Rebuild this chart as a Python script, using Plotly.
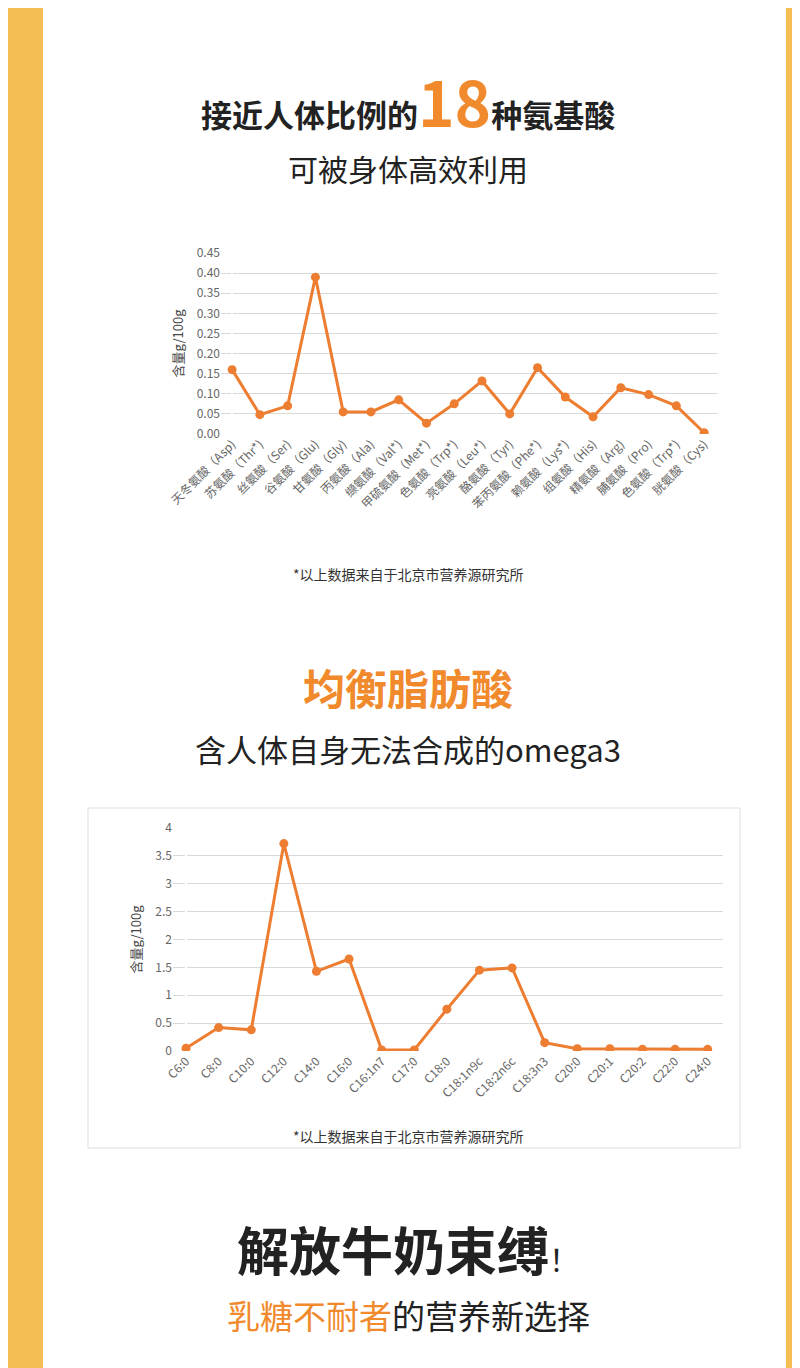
import plotly.graph_objects as go

amino_labels = ["天冬氨酸（Asp)", "苏氨酸（Thr*)", "丝氨酸（Ser)", "谷氨酸（Glu)", "甘氨酸（Gly)",
                "丙氨酸（Ala)", "缬氨酸（Val*)", "甲硫氨酸（Met*)", "色氨酸（Trp*)", "亮氨酸（Leu*)",
                "酪氨酸（Tyr)", "苯丙氨酸（Phe*)", "赖氨酸（Lys*)", "组氨酸（His)", "精氨酸（Arg)",
                "脯氨酸（Pro)", "色氨酸（Trp*)", "胱氨酸（Cys)"]
amino_values = [0.16, 0.048, 0.07, 0.39, 0.055, 0.055, 0.085, 0.027, 0.075, 0.132,
                0.05, 0.165, 0.092, 0.043, 0.115, 0.098, 0.07, 0.003]

fat_labels = ["C6:0", "C8:0", "C10:0", "C12:0", "C14:0", "C16:0", "C16:1n7", "C17:0", "C18:0",
              "C18:1n9c", "C18:2n6c", "C18:3n3", "C20:0", "C20:1", "C20:2", "C22:0", "C24:0"]
fat_values = [0.05, 0.42, 0.38, 3.72, 1.43, 1.65, 0.02, 0.02, 0.75, 1.45, 1.49, 0.15,
              0.04, 0.04, 0.03, 0.03, 0.03]

ORANGE = "#ED7D31"
H = 1368

def py(px):
    return 1 - px / H

fig = go.Figure()
fig.add_trace(go.Scatter(x=list(range(len(amino_labels))), y=amino_values, mode="lines+markers",
                         line=dict(color=ORANGE, width=3), marker=dict(size=9, color=ORANGE),
                         xaxis="x", yaxis="y"))
fig.add_trace(go.Scatter(x=list(range(len(fat_labels))), y=fat_values, mode="lines+markers",
                         line=dict(color=ORANGE, width=3), marker=dict(size=9, color=ORANGE),
                         xaxis="x2", yaxis="y2"))

tickfont = dict(family="Noto Sans CJK SC", size=12, color="#666")
ytitle = dict(text="含量g/100g", font=dict(family="Noto Sans CJK SC", size=13, color="#444"), standoff=10)
fig.update_layout(
    width=800, height=H, margin=dict(l=0, r=0, t=0, b=0),
    paper_bgcolor="white", plot_bgcolor="white", showlegend=False,
    xaxis=dict(domain=[213 / 800, 710 / 800], range=[-0.4, 17.5], anchor="y", automargin=False,
               tickvals=list(range(len(amino_labels))), ticktext=amino_labels,
               tickangle=-45, tickfont=tickfont, showgrid=False, showline=False, ticks=""),
    yaxis=dict(domain=[py(426), py(245)], range=[0, 0.45], dtick=0.05, tickformat=".2f",
               anchor="x", tickfont=tickfont, gridcolor="#d9d9d9", zeroline=False,
               automargin=False, title=ytitle),
    xaxis2=dict(domain=[165 / 800, 715 / 800], range=[-0.4, 16.47], anchor="y2", automargin=False,
                tickvals=list(range(len(fat_labels))), ticktext=fat_labels,
                tickangle=-45, tickfont=tickfont, showgrid=False, showline=False, ticks=""),
    yaxis2=dict(domain=[py(1043), py(820)], range=[0, 4], dtick=0.5, anchor="x2",
                tickfont=tickfont, gridcolor="#d9d9d9", zeroline=False,
                automargin=False, title=ytitle),
)

fig.add_shape(type="rect", xref="paper", yref="paper", x0=0, x1=35 / 800, y0=0, y1=1,
              fillcolor="#F5BE55", line_width=0, layer="below")
fig.add_shape(type="rect", xref="paper", yref="paper", x0=778 / 800, x1=1, y0=0, y1=1,
              fillcolor="#F5BE55", line_width=0, layer="below")
fig.add_shape(type="rect", xref="paper", yref="paper", x0=80 / 800, x1=732 / 800,
              y0=py(1140), y1=py(800), line=dict(color="#dddddd", width=1), layer="below")

F = "Noto Sans CJK SC"
def note(text, y, size, color="#222", x=0.5):
    fig.add_annotation(text=text, x=x, y=py(y), xref="paper", yref="paper", showarrow=False,
                       font=dict(family=F, size=size, color=color), xanchor="center", yanchor="middle")

note("<b>接近人体比例的<span style='font-size:62px;color:#F08A2C'>18</span>种氨基酸</b>", 92, 31)
note("可被身体高效利用", 160, 30)
note("*以上数据来自于北京市营养源研究所", 566, 14, "#333")
note("<b>均衡脂肪酸</b>", 678, 42, "#F08A2C")
note("含人体自身无法合成的omega3", 740, 31, "#222")
note("*以上数据来自于北京市营养源研究所", 1128, 14, "#333")
note("<b>解放牛奶束缚</b><span style='font-size:30px'>！</span>", 1240, 52, "#222")
note("<span style='color:#F08A2C'>乳糖不耐者</span>的营养新选择", 1307, 33, "#222")

fig.write_html("out.html")
